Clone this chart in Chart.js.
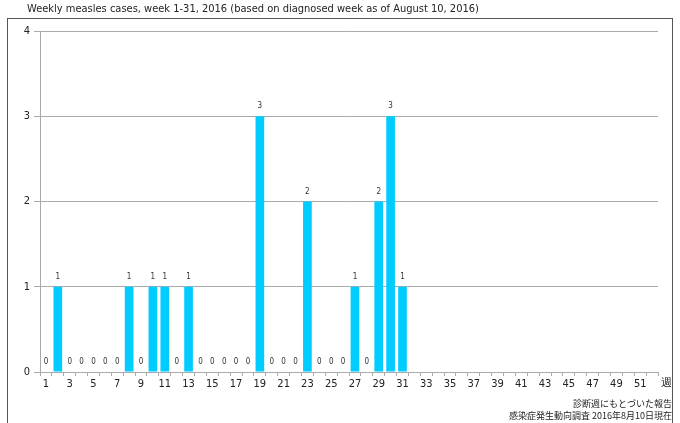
<!DOCTYPE html>
<html>
<head>
<meta charset="utf-8">
<script src="https://cdn.jsdelivr.net/npm/chart.js@4.4.0/dist/chart.umd.min.js"></script>
<style>
  html, body { margin: 0; padding: 0; background: #fff; }
  #wrap { width: 680px; height: 423px; position: relative; }
</style>
</head>
<body>
<div id="wrap"><canvas id="measlesChart" width="680" height="423"></canvas></div>
<script>
// week numbers 1..52
const weeks = [];
for (let w = 1; w <= 52; w++) weeks.push(String(w));

// reported cases, weeks 1-31 (later weeks not yet reported)
const cases = [0, 1, 0, 0, 0, 0, 0, 1, 0, 1, 1, 0, 1, 0, 0, 0, 0, 0, 3, 0,
               0, 0, 2, 0, 0, 0, 1, 0, 2, 3, 1];
const yTicks = [0, 1, 2, 3, 4];

const titleText = 'Weekly measles cases, week 1-31, 2016 (based on diagnosed week as of August 10, 2016)';
const noteLines = ['診断週にもとづいた報告', '感染症発生動向調査 2016年8月10日現在'];
const axisUnit = '週';

const mainFont = '"DejaVu Sans Condensed", "DejaVu Sans", sans-serif';

// frame, title, value labels, footnotes
const decorations = {
    id: 'decorations',
    afterDraw(chart) {
        const ctx = chart.ctx;
        ctx.save();
        ctx.strokeStyle = '#555';
        ctx.lineWidth = 1;
        ctx.strokeRect(7.5, 18.5, 665, 500);

        ctx.fillStyle = '#222';
        ctx.font = '11px ' + mainFont;
        ctx.textBaseline = 'middle';
        ctx.textAlign = 'left';
        ctx.fillText(titleText, 27, 9);

        // value labels above each bar
        const meta = chart.getDatasetMeta(0);
        ctx.font = '8px ' + mainFont;
        ctx.textAlign = 'center';
        ctx.fillStyle = '#333';
        meta.data.forEach((bar, i) => {
            const v = cases[i];
            if (v === undefined || v === null) return;
            ctx.fillText(String(v), bar.x, bar.y - 10);
        });

        // unit after the last tick label
        const xs = chart.scales.x;
        ctx.font = '11px ' + mainFont;
        ctx.fillStyle = '#222';
        ctx.fillText(axisUnit, 666, xs.top + 11);

        ctx.font = '9px "Noto Sans CJK JP", sans-serif';
        ctx.textAlign = 'right';
        ctx.fillStyle = '#222';
        ctx.fillText(noteLines[0], 672, 404);
        ctx.fillText(noteLines[1], 672, 416);
        ctx.restore();
    }
};

const ctx = document.getElementById('measlesChart').getContext('2d');
new Chart(ctx, {
    type: 'bar',
    data: {
        labels: weeks,
        datasets: [{
            label: 'cases',
            data: cases,
            backgroundColor: '#00CCFF',
            borderWidth: 0,
            barPercentage: 0.73,
            categoryPercentage: 1.0
        }]
    },
    options: {
        responsive: false,
        animation: false,
        layout: { padding: { left: 7, right: 22, top: 31, bottom: 31 } },
        plugins: {
            legend: { display: false },
            title: { display: false },
            tooltip: { enabled: false }
        },
        scales: {
            x: {
                afterFit: (s) => { s.height = 20; },
                grid: {
                    offset: true,
                    drawOnChartArea: false,
                    drawTicks: true,
                    tickLength: 4,
                    color: '#aaa'
                },
                border: { display: true, color: '#aaa' },
                ticks: {
                    autoSkip: false,
                    maxRotation: 0,
                    padding: 2,
                    color: '#222',
                    font: { family: mainFont, size: 11 },
                    callback: function (val, idx) {
                        return idx % 2 === 0 ? weeks[idx] : '';
                    }
                }
            },
            y: {
                min: 0,
                max: 4,
                afterFit: (s) => { s.width = 33; },
                afterBuildTicks: (s) => { s.ticks = yTicks.map(v => ({ value: v })); },
                grid: {
                    color: '#aaa',
                    tickLength: 6
                },
                border: { display: true, color: '#aaa' },
                ticks: {
                    padding: 4,
                    color: '#222',
                    font: { family: mainFont, size: 11 }
                }
            }
        }
    },
    plugins: [decorations]
});
</script>
</body>
</html>
